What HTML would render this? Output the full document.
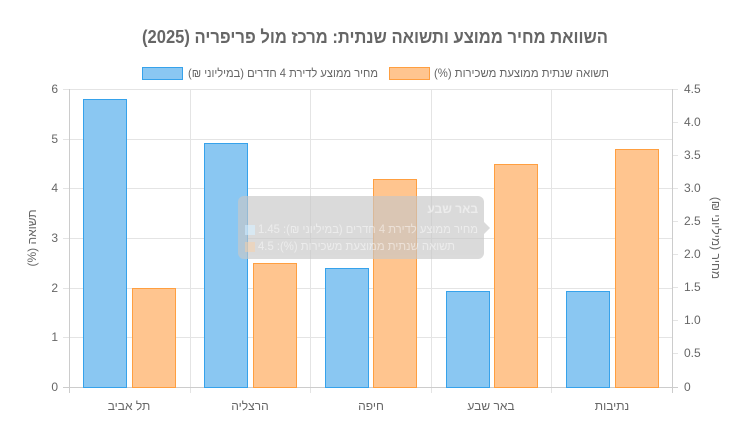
<!DOCTYPE html>
<html><head><meta charset="utf-8"><style>
body{margin:0;background:#fff}
svg{display:block;font-family:"Liberation Sans","Noto Sans CJK SC",sans-serif}
</style></head><body>
<svg width="746" height="444" viewBox="0 0 746 444">
<text x="375" y="43" text-anchor="middle" font-size="18" font-weight="bold" fill="#666" direction="rtl" textLength="466" lengthAdjust="spacingAndGlyphs">השוואת מחיר ממוצע ותשואה שנתית: מרכז מול פריפריה (2025)</text>
<rect x="142.5" y="67.5" width="40" height="12" fill="#8ac7f2" stroke="#36a2eb"/>
<text x="378" y="77" text-anchor="start" font-size="12" fill="#666" direction="rtl" textLength="190" lengthAdjust="spacingAndGlyphs">מחיר ממוצע לדירת 4 חדרים (במיליוני ₪)</text>
<rect x="389.5" y="67.5" width="40" height="12" fill="#ffc58f" stroke="#ff9f40"/>
<text x="609" y="77" text-anchor="start" font-size="12" fill="#666" direction="rtl" textLength="175" lengthAdjust="spacingAndGlyphs">תשואה שנתית ממוצעת משכירות (%)</text>
<g stroke="#e4e4e4" stroke-width="1">
<line x1="69" y1="89.5" x2="672" y2="89.5"/><line x1="69" y1="139.5" x2="672" y2="139.5"/>
<line x1="69" y1="188.5" x2="672" y2="188.5"/><line x1="69" y1="238.5" x2="672" y2="238.5"/>
<line x1="69" y1="288.5" x2="672" y2="288.5"/><line x1="69" y1="337.5" x2="672" y2="337.5"/>
<line x1="190.5" y1="89" x2="190.5" y2="393"/><line x1="310.5" y1="89" x2="310.5" y2="393"/>
<line x1="431.5" y1="89" x2="431.5" y2="393"/><line x1="551.5" y1="89" x2="551.5" y2="393"/>
<line x1="63" y1="89.5" x2="69" y2="89.5"/><line x1="63" y1="139.5" x2="69" y2="139.5"/><line x1="63" y1="188.5" x2="69" y2="188.5"/><line x1="63" y1="238.5" x2="69" y2="238.5"/><line x1="63" y1="288.5" x2="69" y2="288.5"/><line x1="63" y1="337.5" x2="69" y2="337.5"/>
<line x1="672" y1="89.5" x2="678" y2="89.5"/><line x1="672" y1="122.5" x2="678" y2="122.5"/><line x1="672" y1="155.5" x2="678" y2="155.5"/><line x1="672" y1="188.5" x2="678" y2="188.5"/><line x1="672" y1="221.5" x2="678" y2="221.5"/><line x1="672" y1="254.5" x2="678" y2="254.5"/><line x1="672" y1="287.5" x2="678" y2="287.5"/><line x1="672" y1="320.5" x2="678" y2="320.5"/><line x1="672" y1="353.5" x2="678" y2="353.5"/>
</g>
<g stroke="#ccc"><line x1="69.5" y1="89" x2="69.5" y2="393"/><line x1="672.5" y1="89" x2="672.5" y2="393"/><line x1="63" y1="387.5" x2="678" y2="387.5"/></g>
<g font-size="12" fill="#666" text-anchor="end">
<text x="58" y="93">6</text><text x="58" y="143">5</text><text x="58" y="192">4</text><text x="58" y="242">3</text><text x="58" y="292">2</text><text x="58" y="341">1</text><text x="58" y="391">0</text>
</g>
<g font-size="12" fill="#666" text-anchor="start">
<text x="684" y="93">4.5</text><text x="684" y="126">4.0</text><text x="684" y="159">3.5</text><text x="684" y="192">3.0</text><text x="684" y="225">2.5</text><text x="684" y="258">2.0</text><text x="684" y="291">1.5</text><text x="684" y="324">1.0</text><text x="684" y="357">0.5</text><text x="684" y="391">0</text>
</g>
<text transform="translate(36,238) rotate(-90)" text-anchor="middle" font-size="12" fill="#666" direction="rtl">תשואה (%)</text>
<text transform="translate(712,238) rotate(90)" text-anchor="middle" font-size="12" fill="#666" direction="rtl">מחיר (מיליוני ₪)</text>
<g fill="#8ac7f2" stroke="#36a2eb" stroke-width="1">
<rect x="83.5" y="99.5" width="43" height="288"/>
<rect x="204.5" y="143.5" width="43" height="244"/>
<rect x="325.5" y="268.5" width="43" height="119"/>
<rect x="446.5" y="291.5" width="43" height="96"/>
<rect x="566.5" y="291.5" width="43" height="96"/>
</g>
<g fill="#ffc58f" stroke="#ff9f40" stroke-width="1">
<rect x="132.5" y="288.5" width="43" height="99"/>
<rect x="253.5" y="263.5" width="43" height="124"/>
<rect x="373.5" y="179.5" width="43" height="208"/>
<rect x="494.5" y="164.5" width="43" height="223"/>
<rect x="615.5" y="149.5" width="43" height="238"/>
</g>
<g font-size="12" fill="#666" text-anchor="middle">
<text x="129" y="410">תל אביב</text><text x="250" y="410">הרצליה</text><text x="371" y="410">חיפה</text><text x="491" y="410">באר שבע</text><text x="612" y="410">נתיבות</text>
</g>
<g opacity="0.82">
<rect x="238" y="196" width="246" height="63" rx="6" fill="#c8c8c8" fill-opacity="0.8"/>
<path d="M484 222 L490 228 L484 234 Z" fill="#c8c8c8" fill-opacity="0.8"/>
<g fill="#e8e8e8" font-size="12" text-anchor="start" direction="rtl">
<text x="478" y="213" font-weight="bold">באר שבע</text>
<text x="478" y="233" textLength="220" lengthAdjust="spacingAndGlyphs">מחיר ממוצע לדירת 4 חדרים (במיליוני ₪): 1.45</text>
<text x="455" y="250" textLength="197" lengthAdjust="spacingAndGlyphs">תשואה שנתית ממוצעת משכירות (%): 4.5</text>
</g>
<rect x="245" y="225" width="10" height="10" fill="#d0e3f0"/>
<rect x="245" y="242" width="10" height="10" fill="#e6cdb3"/>
</g>
</svg>
</body></html>
